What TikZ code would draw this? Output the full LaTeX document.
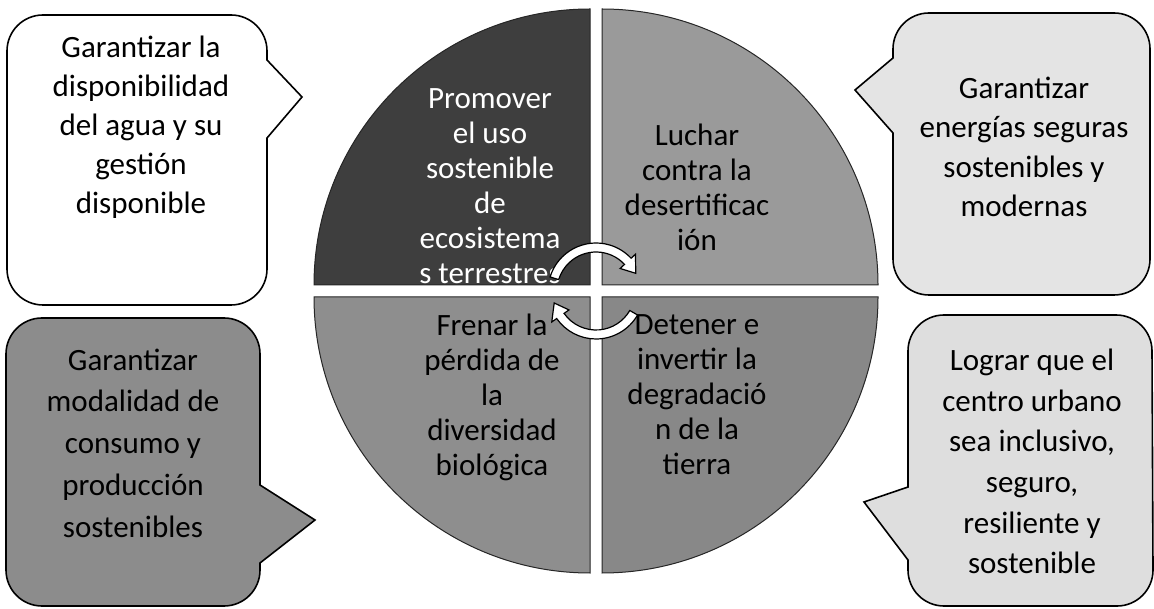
\documentclass[tikz,border=0pt]{standalone}
\usepackage{fontspec}
\setmainfont{Carlito}
\usetikzlibrary{calc}
\definecolor{qtl}{HTML}{3E3E3E}
\definecolor{qtr}{HTML}{9A9A9A}
\definecolor{qbl}{HTML}{8E8E8E}
\definecolor{qbr}{HTML}{888888}
\definecolor{cwhite}{HTML}{FFFFFF}
\definecolor{clight}{HTML}{E4E4E4}
\definecolor{cmid}{HTML}{8C8C8C}
\definecolor{clightb}{HTML}{DEDEDE}
\tikzset{
  quad/.style={draw=black!85, line width=1pt},
  callout/.style={draw=black, line width=1.6pt},
  cytext/.style={align=center, text=black, font=\fontsize{31}{39}\selectfont},
  pietext/.style={align=center, font=\fontsize{31}{35}\selectfont},
  band/.style={fill=white, draw=black, line width=1.2pt, line join=miter},
}
\begin{document}
\begin{tikzpicture}[x=1pt,y=1pt]
\useasboundingbox (0,0) rectangle (1154,608);
\fill[white] (0,0) rectangle (1154,608);
% pie quadrants
\path[quad, fill=qtl] (590,323) -- (314,323) arc[start angle=180, end angle=90, radius=276pt] -- cycle;
\path[quad, fill=qtr] (602,323) -- (602,599) arc[start angle=90, end angle=0, radius=276pt] -- cycle;
\path[quad, fill=qbl] (590,311) -- (590,35) arc[start angle=270, end angle=180, radius=276pt] -- cycle;
\path[quad, fill=qbr] (602,311) -- (878,311) arc[start angle=0, end angle=-90, radius=276pt] -- cycle;
% pie texts
\node[pietext, text=white] (ptl) at (490,421.5) {Promover\\el uso\\sostenible\\de\\ecosistema\\s terrestres};
\node[pietext, text=black] (ptr) at (697,420.5) {Luchar\\contra la\\desertificac\\ión};
\node[pietext, text=black] (pbl) at (492,211) {Frenar la\\pérdida de\\la\\diversidad\\biológica};
\node[pietext, text=black] (pbr) at (697,213) {Detener e\\invertir la\\degradació\\n de la\\tierra};
% circular arrows
\coordinate (C) at (596,317);
\path[band] ($(C)+(163:48pt)$) arc[start angle=163, end angle=43, radius=48pt]
  -- ($(C)+(43:54pt)$) -- ($(C)+(24:43.5pt)$) -- ($(C)+(43:33pt)$) -- ($(C)+(43:39pt)$)
  arc[start angle=43, end angle=163, radius=39pt] -- cycle;
\path[band] ($(C)+(-30:48pt)$) arc[start angle=-30, end angle=-145, radius=48pt]
  -- ($(C)+(-145:54pt)$) -- ($(C)+(-164:43.5pt)$) -- ($(C)+(-145:33pt)$) -- ($(C)+(-145:39pt)$)
  arc[start angle=-145, end angle=-30, radius=39pt] -- cycle;
% callouts
\path[callout, fill=cwhite] (267,470) -- (267,339) arc[start angle=0, end angle=-90, radius=36pt]
  -- (43,303) arc[start angle=270, end angle=180, radius=36pt]
  -- (7,557) arc[start angle=180, end angle=90, radius=36pt]
  -- (231,593) arc[start angle=90, end angle=0, radius=36pt]
  -- (267,548) -- (302,511) -- cycle;
\path[callout, fill=clight] (893,475) -- (893,349) arc[start angle=180, end angle=270, radius=36pt]
  -- (1114,313) arc[start angle=270, end angle=360, radius=36pt]
  -- (1150,559) arc[start angle=0, end angle=90, radius=36pt]
  -- (929,595) arc[start angle=90, end angle=180, radius=36pt]
  -- (893,550) -- (855,518) -- cycle;
\path[callout, fill=cmid] (260,45) -- (260,38) arc[start angle=0, end angle=-90, radius=36pt]
  -- (42,2) arc[start angle=270, end angle=180, radius=36pt]
  -- (6,254) arc[start angle=180, end angle=90, radius=36pt]
  -- (224,290) arc[start angle=90, end angle=0, radius=36pt]
  -- (260,123) -- (315,88) -- cycle;
\path[callout, fill=clightb] (908,48) -- (908,38) arc[start angle=180, end angle=270, radius=36pt]
  -- (1117,2) arc[start angle=270, end angle=360, radius=36pt]
  -- (1152,257) arc[start angle=0, end angle=90, radius=36pt]
  -- (944,293) arc[start angle=90, end angle=180, radius=36pt]
  -- (908,121) -- (864,106) -- cycle;
% callout texts
\node[cytext] (ctl) at (141,480.5) {Garantizar la\\disponibilidad\\del agua y su\\gestión\\disponible};
\node[cytext, font=\fontsize{31}{39.5}\selectfont] (ctr) at (1024,461) {Garantizar\\energías seguras\\sostenibles y\\modernas};
\node[cytext, font=\fontsize{31}{41.75}\selectfont] (cbl) at (133,165) {Garantizar\\modalidad de\\consumo y\\producción\\sostenibles};
\node[cytext, font=\fontsize{31}{40.6}\selectfont] (cbr) at (1032,146.5) {Lograr que el\\centro urbano\\sea inclusivo,\\seguro,\\resiliente y\\sostenible};
\end{tikzpicture}
\end{document}
